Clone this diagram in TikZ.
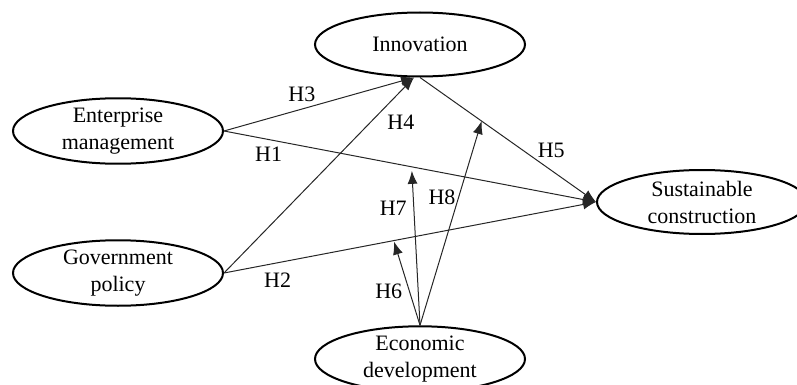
\documentclass[tikz,border=0pt]{standalone}
\usepackage{fontspec}
\setmainfont{Liberation Serif}
\usetikzlibrary{shapes,arrows.meta}

\begin{document}
\begin{tikzpicture}
[
x=0.5pt, y=-0.5pt,
every node/.style={font=\fontsize{11}{13.5}\selectfont},
every edge/.style={draw=black!85},
construct/.style={ellipse, draw, line width=1pt, minimum width=105pt, minimum height=32pt, inner sep=0pt, align=center},
link/.style={-{Latex[length=6.5pt, width=5pt]}, line width=0.5pt}
]
\useasboundingbox (0,0) rectangle (797,385);

\node[construct] (innov) at (420,44.5) {Innovation};
\node[construct] (entman) at (118,131) {Enterprise\\management};
\node[construct] (govpol) at (118,273) {Government\\policy};
\node[construct] (sustcon) at (702,202) {Sustainable\\construction};
\node[construct] (econdev) at (420,359) {Economic\\development};

% points on the direct paths where the moderator arrows end
\path (entman.east) -- coordinate[pos=0.505] (h1mid) (sustcon.west);
\path (govpol.east) -- coordinate[pos=0.457] (h2mid) (sustcon.west);
\path (innov.south) -- coordinate[pos=0.35] (h5mid) (sustcon.west);
\coordinate (innovtip) at ([xshift=-3pt] innov.south);
\coordinate (h6tip) at ([yshift=-0.5pt] h2mid);
\coordinate (h7tip) at ([yshift=-2pt] h1mid);

\path[link]
(entman.east)	edge node[pos=0.41, above] {H3}	(innovtip)
(entman.east)	edge node[pos=0.12, below] {H1}	(sustcon.west)
(govpol.east)	edge node[pos=0.77, right, xshift=5pt] {H4}	(innovtip)
(govpol.east)	edge node[pos=0.144, below, yshift=-1.5pt] {H2}	(sustcon.west)
(innov.south)	edge node[pos=0.7, xshift=4pt, yshift=7pt] {H5}	(sustcon.west)
(econdev.north)	edge node[pos=0.41, left] {H6}	(h6tip)
(econdev.north)	edge node[pos=0.76, left] {H7}	(h7tip)
(econdev.north)	edge node[pos=0.627, left, xshift=2pt] {H8}	(h5mid);
\end{tikzpicture}
\end{document}
